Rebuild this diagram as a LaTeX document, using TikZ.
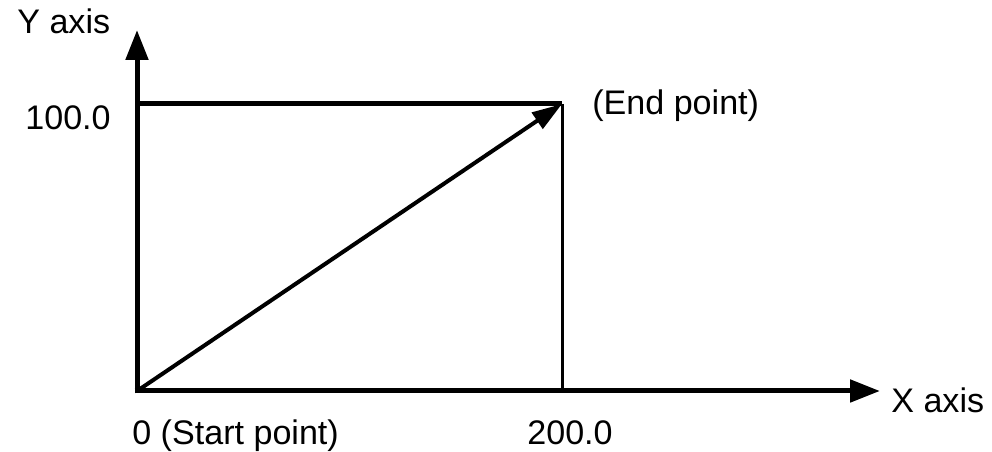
\documentclass[tikz,border=0pt]{standalone}
\usepackage{fontspec}
\setmainfont{Liberation Sans}
\usetikzlibrary{arrows.meta}
\begin{document}
\begin{tikzpicture}[x=0.02cm,y=-0.02cm,
  lbl/.style={anchor=base west,inner sep=0pt,font=\fontsize{19.4}{23}\selectfont},
  axis/.style={line width=0.1cm,-{Triangle[length=0.6cm,width=0.44cm]}},
  heavy/.style={line width=0.1cm},
  thin/.style={line width=0.06cm},
  vec/.style={line width=0.08cm,-{Triangle[length=0.6cm,width=0.38cm]}}]
\useasboundingbox (0,0) rectangle (992,452);
\coordinate (O) at (137,391);
\coordinate (Yt) at (137,30);
\coordinate (Xt) at (880,391);
\coordinate (Y100) at (137,104);
\coordinate (E) at (562,104);
\coordinate (X200) at (562,391);
\draw[heavy] (Y100) -- (E);
\draw[thin] (E) -- (X200);
\draw[axis] ([yshift=-0.05cm]O) -- (Yt);
\draw[axis] ([xshift=-0.05cm]O) -- (Xt);
\draw[vec] (O) -- (E);
\node[lbl] (ylab) at (17,34) {Y axis};
\node[lbl] (y100) at (25,130) {100.0};
\node[lbl] (end) at (592,115) {(End point)};
\node[lbl] (start) at (132,445) {0 (Start point)};
\node[lbl] (x200) at (527,445) {200.0};
\node[lbl] (xlab) at (891,413) {X axis};
\end{tikzpicture}
\end{document}
